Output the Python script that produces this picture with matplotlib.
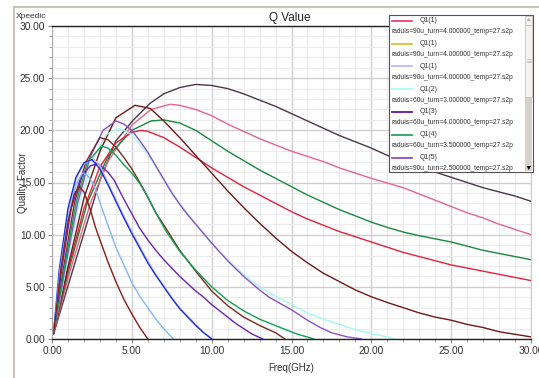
import matplotlib
matplotlib.use("Agg")
import matplotlib.pyplot as plt
from matplotlib.ticker import MultipleLocator, FormatStrFormatter
from matplotlib.patches import Rectangle, Polygon
from matplotlib.lines import Line2D

plt.rcParams['font.family'] = ['Liberation Sans', 'DejaVu Sans']

# Q curves: frequency (GHz) and quality factor
maroon_s_f = [0.1, 0.55, 1.0, 1.4, 1.7, 2.0, 2.4, 2.7, 3.0, 3.5, 4.0, 4.5, 5.0, 5.5, 6.0]
maroon_s_q = [0.5, 6.6, 11.2, 13.9, 14.6, 14.1, 12.4, 10.8, 9.5, 7.4, 5.5, 3.8, 2.4, 1.1, 0.0]

ltblue_f = [0.1, 0.5, 1.0, 1.5, 1.9, 2.2, 2.5, 2.7, 3.0, 3.5, 4.0, 4.5, 5.0, 5.5, 6.0, 6.5, 7.0, 7.6]
ltblue_q = [0.5, 6.6, 11.5, 14.8, 15.9, 15.7, 15.1, 14.4, 13.1, 10.9, 8.8, 7.1, 5.4, 4.1, 3.0, 1.9, 1.0, 0.0]

blue_f = [0.1, 0.45, 1.0, 1.5, 2.0, 2.5, 3.0, 3.5, 4.0, 4.5, 5.0, 5.5, 6.0, 6.5, 7.0, 7.5, 8.0, 8.5, 9.0, 9.5, 10.0]
blue_q = [0.6, 6.6, 12.5, 15.5, 16.9, 17.2, 16.3, 14.8, 13.2, 11.6, 10.1, 8.7, 7.3, 6.1, 5.0, 3.9, 2.9, 2.1, 1.3, 0.6, 0.0]

lav_f = [0.1, 0.5, 1.0, 1.5, 2.0, 2.6, 3.0, 3.5, 4.0, 4.5, 5.0, 5.5, 6.0, 6.5, 7.0, 7.5, 8.0, 8.5, 9.0, 9.5, 10.1]
lav_q = [0.6, 6.6, 12.2, 15.3, 16.8, 17.3, 16.6, 15.0, 13.4, 11.8, 10.3, 8.9, 7.5, 6.2, 5.1, 4.0, 3.0, 2.2, 1.4, 0.6, 0.0]

purple_f = [0.1, 0.6, 1.2, 1.8, 2.4, 2.9, 3.5, 3.9, 4.5, 5.0, 5.5, 6.0, 6.5, 7.0, 7.5, 8.0, 8.5, 9.0, 9.5,
            10.0, 10.5, 11.0, 11.5, 12.0, 12.5, 13.2]
purple_q = [0.5, 6.6, 12.5, 15.5, 16.6, 16.8, 16.0, 15.2, 13.4, 12.0, 10.6, 9.5, 8.5, 7.6, 6.8, 6.0, 5.3, 4.6, 4.0,
            3.3, 2.7, 2.1, 1.5, 1.0, 0.5, 0.0]

green_s_f = [0.1, 0.75, 1.5, 2.2, 3.1, 3.5, 4.0, 4.5, 5.0, 5.5, 6.0, 6.5, 7.1, 8.0, 9.0, 10.0, 11.0, 12.0, 13.0,
             14.3, 15.3, 16.4]
green_s_q = [0.5, 6.6, 13.0, 16.9, 18.5, 18.3, 17.6, 16.7, 15.9, 14.9, 13.6, 12.1, 10.45, 8.4, 6.6, 5.0, 3.7, 2.7,
             1.9, 1.1, 0.5, 0.0]

brown_f = [0.1, 0.7, 1.4, 2.1, 3.0, 3.5, 4.0, 4.5, 5.0, 5.5, 6.0, 6.5, 7.2, 8.0, 9.0, 10.0, 11.0, 12.0, 13.0,
           14.0, 14.6]
brown_q = [0.5, 6.6, 13.0, 16.9, 19.3, 19.1, 18.4, 17.4, 16.3, 15.0, 13.6, 12.1, 10.45, 8.5, 6.5, 4.6, 3.2, 2.1,
           1.3, 0.6, 0.0]

violet_f = [0.1, 0.8, 1.6, 2.4, 3.2, 4.0, 4.5, 5.0, 5.5, 6.0, 6.5, 7.0, 7.5, 8.0, 8.5, 9.0, 9.5, 10.0, 11.0,
            12.0, 13.0, 13.6, 14.3, 15.0, 16.0, 16.8, 17.5, 18.5, 19.4]
violet_q = [0.5, 6.6, 13.0, 17.5, 20.0, 20.9, 20.6, 20.0, 19.0, 17.9, 16.6, 15.3, 14.0, 12.9, 11.9, 11.0, 10.1,
            9.2, 7.5, 6.0, 4.7, 4.0, 3.4, 2.8, 1.8, 1.1, 0.6, 0.2, 0.0]

cyan_f = [0.1, 0.85, 1.7, 2.6, 3.4, 4.2, 5.0, 6.0, 7.0, 8.0, 9.0, 10.0, 11.0, 12.0, 13.0, 14.0, 15.0, 16.0, 17.0,
          18.0, 19.0, 20.0, 21.0, 21.5]
cyan_q = [0.5, 6.6, 13.0, 17.4, 19.6, 20.2, 19.6, 17.7, 15.3, 13.0, 11.0, 9.1, 7.6, 6.2, 5.0, 4.1, 3.3, 2.5, 1.9,
          1.4, 0.9, 0.5, 0.2, 0.0]

maroon_b_f = [0.1, 0.95, 2.0, 3.0, 4.0, 5.2, 6.15, 7.0, 8.0, 9.0, 10.0, 11.0, 12.0, 13.0, 14.0, 15.0, 16.0, 17.0,
              18.0, 19.0, 20.0, 21.0, 22.0, 23.0, 24.0, 25.0, 26.0, 27.0, 28.0, 29.0, 30.0]
maroon_b_q = [0.5, 6.6, 13.5, 18.0, 21.2, 22.4, 22.1, 20.9, 19.3, 17.6, 15.9, 14.2, 12.6, 11.1, 9.7, 8.4, 7.3, 6.3,
              5.5, 4.7, 4.05, 3.5, 3.0, 2.5, 2.1, 1.8, 1.4, 1.1, 0.7, 0.45, 0.2]

red_f = [0.1, 1.0, 2.0, 3.0, 4.0, 5.0, 5.6, 6.0, 7.0, 8.0, 9.0, 10.0, 11.0, 12.0, 13.0, 14.0, 15.0, 16.0, 17.0,
         18.0, 19.0, 20.0, 21.0, 22.0, 23.0, 24.0, 25.0, 26.0, 27.0, 28.0, 29.0, 30.0]
red_q = [0.5, 6.6, 12.5, 16.5, 18.8, 19.8, 20.0, 19.9, 19.3, 18.4, 17.4, 16.4, 15.5, 14.6, 13.8, 13.0, 12.2, 11.5,
         10.9, 10.3, 9.8, 9.3, 8.8, 8.3, 7.9, 7.5, 7.1, 6.8, 6.5, 6.2, 5.9, 5.6]

green_b_f = [0.1, 1.05, 2.2, 3.5, 5.0, 6.2, 7.0, 8.0, 9.0, 10.0, 11.0, 12.0, 13.0, 14.0, 15.0, 16.0, 17.0, 18.0,
             19.0, 20.0, 21.0, 22.0, 23.0, 24.0, 25.0, 26.0, 27.0, 28.0, 29.0, 30.0]
green_b_q = [0.5, 6.6, 13.0, 17.5, 20.0, 20.9, 21.0, 20.7, 20.0, 19.0, 18.0, 17.1, 16.2, 15.4, 14.6, 13.8, 13.1,
             12.4, 11.8, 11.2, 10.7, 10.25, 9.9, 9.6, 9.3, 8.9, 8.5, 8.2, 7.9, 7.6]

pink_f = [0.1, 1.15, 2.4, 3.5, 5.0, 6.2, 7.4, 8.0, 9.0, 10.0, 11.0, 12.0, 13.0, 14.0, 15.0, 16.0, 17.0, 18.0,
          19.0, 20.0, 21.0, 22.0, 23.0, 24.0, 25.0, 26.0, 27.0, 28.0, 29.0, 30.0]
pink_q = [0.5, 6.6, 13.0, 17.0, 20.5, 22.0, 22.5, 22.4, 22.0, 21.4, 20.6, 19.9, 19.2, 18.6, 18.0, 17.5, 17.0,
          16.4, 15.9, 15.4, 14.95, 14.5, 13.9, 13.3, 12.7, 12.1, 11.6, 11.0, 10.5, 10.0]

gray_f = [0.1, 1.3, 3.0, 4.0, 5.1, 6.15, 7.0, 8.0, 9.0, 10.0, 11.0, 12.0, 13.0, 14.0, 15.0, 16.0, 17.0, 18.0,
          19.0, 20.0, 21.0, 22.0, 23.0, 24.0, 25.0, 26.0, 27.0, 28.0, 29.0, 30.0]
gray_q = [0.5, 6.6, 15.2, 19.0, 21.0, 22.6, 23.5, 24.1, 24.4, 24.3, 24.0, 23.5, 22.9, 22.3, 21.6, 20.9, 20.2,
          19.5, 18.9, 18.3, 17.6, 17.0, 16.5, 16.0, 15.5, 15.0, 14.5, 14.1, 13.7, 13.2]

curves = [
    (gray_f, gray_q, '#4a3848'),
    (pink_f, pink_q, '#e8648c'),
    (green_b_f, green_b_q, '#178a3c'),
    (red_f, red_q, '#e8203c'),
    (maroon_b_f, maroon_b_q, '#701818'),
    (cyan_f, cyan_q, '#a4f8ee'),
    (violet_f, violet_q, '#8a50c8'),
    (brown_f, brown_q, '#7a2a20'),
    (green_s_f, green_s_q, '#12a052'),
    (purple_f, purple_q, '#6a22b8'),
    (lav_f, lav_q, '#c8b8f8'),
    (blue_f, blue_q, '#1830d0'),
    (ltblue_f, ltblue_q, '#80b8f8'),
    (maroon_s_f, maroon_s_q, '#8b1a1a'),
]

legend_names = ['Q1(1)', 'Q1(1)', 'Q1(1)', 'Q1(2)', 'Q1(3)', 'Q1(4)', 'Q1(5)']
legend_files = ['raduis=90u_turn=4.000000_temp=27.s2p',
                'raduis=90u_turn=4.000000_temp=27.s2p',
                'raduis=90u_turn=4.000000_temp=27.s2p',
                'raduis=60u_turn=3.000000_temp=27.s2p',
                'raduis=60u_turn=4.000000_temp=27.s2p',
                'raduis=60u_turn=3.500000_temp=27.s2p',
                'raduis=90u_turn=2.500000_temp=27.s2p']
legend_colors = ['#f0306a', '#d8b820', '#c0b0f8', '#a0fff0', '#5000a0', '#10a050', '#8040c0']

W, H = 539, 378
fig = plt.figure(figsize=(W / 100, H / 100), dpi=100)
ax = fig.add_axes([52 / W, 1 - 339 / H, (531 - 52) / W, (339 - 26) / H])

for f, q, c in curves:
    ax.plot(f, q, color=c, lw=1.0, solid_capstyle='round')

ax.set_xlim(0, 30)
ax.set_ylim(0, 30)
ax.xaxis.set_major_locator(MultipleLocator(5))
ax.xaxis.set_minor_locator(MultipleLocator(1))
ax.yaxis.set_major_locator(MultipleLocator(5))
ax.yaxis.set_minor_locator(MultipleLocator(1))
ax.xaxis.set_major_formatter(FormatStrFormatter('%.2f'))
ax.yaxis.set_major_formatter(FormatStrFormatter('%.2f'))
ax.grid(which='major', color='#cfcfcf', lw=1.0)
ax.grid(which='minor', color='#ececec', lw=0.8)
ax.set_axisbelow(True)
ax.tick_params(which='major', length=3, width=0.8, color='#888888', labelsize=7.3, labelcolor='#333333', pad=2)
ax.tick_params(which='minor', length=2, width=0.6, color='#999999')
for s in ['top', 'bottom']:
    ax.spines[s].set_color('#222222')
    ax.spines[s].set_linewidth(1.0)
ax.spines['left'].set_color('#aaaaaa')
ax.spines['right'].set_color('#cccccc')

ax.set_xlabel('Freq(GHz)', fontsize=7, color='#333333', labelpad=5)
ax.set_ylabel('Quality Factor', fontsize=7, color='#333333')
ax.yaxis.set_label_coords((28 - 52) / (531 - 52), 0.5)
fig.text(290 / W, 1 - 18 / H, 'Q Value', ha='center', va='center', fontsize=8.5, color='#222222')
fig.text(16 / W, 1 - 17 / H, 'Xpeedic', ha='left', va='center', fontsize=6, color='#333333')

# outer frame
fig.add_artist(Line2D([14 / W, 14 / W], [0, 1 - 7 / H], transform=fig.transFigure, color='#c8c4bc', lw=1.5))
fig.add_artist(Line2D([14 / W, 1], [1 - 7 / H, 1 - 7 / H], transform=fig.transFigure, color='#c8c4bc', lw=1.5))

# legend box with scrollbar
lx0, lx1, ly0, ly1 = 389, 533, 15, 172
fig.add_artist(Rectangle((lx0 / W, 1 - ly1 / H), (lx1 - lx0) / W, (ly1 - ly0) / H, transform=fig.transFigure,
                         facecolor='white', edgecolor='#555555', lw=0.8, zorder=5))
sx0 = 525
fig.add_artist(Rectangle((sx0 / W, 1 - (ly1 - 1) / H), (lx1 - 1 - sx0) / W, (ly1 - ly0 - 2) / H,
                         transform=fig.transFigure, facecolor='#d6d2ca', edgecolor='none', zorder=6))
fig.add_artist(Rectangle((sx0 / W, 1 - 97 / H), (lx1 - 1 - sx0) / W, (97 - 25) / H,
                         transform=fig.transFigure, facecolor='#f4f3f0', edgecolor='#c0bcb4', lw=0.5, zorder=7))
fig.add_artist(Rectangle((sx0 / W, 1 - 25 / H), (lx1 - 1 - sx0) / W, 9 / H,
                         transform=fig.transFigure, facecolor='#f4f3f0', edgecolor='#c0bcb4', lw=0.5, zorder=7))
fig.add_artist(Polygon([(526.5 / W, 1 - 166 / H), (531 / W, 1 - 166 / H), (528.75 / W, 1 - 170 / H)],
                       closed=True, transform=fig.transFigure, facecolor='black', zorder=8))
fig.add_artist(Polygon([(526.5 / W, 1 - 21 / H), (531 / W, 1 - 21 / H), (528.75 / W, 1 - 18 / H)],
                       closed=True, transform=fig.transFigure, facecolor='#b8b4ac', zorder=8))
for k in range(3):
    yy = 1 - (59 + 1.5 * k) / H
    fig.add_artist(Line2D([526.5 / W, 531 / W], [yy, yy], transform=fig.transFigure, color='#a8a49c', lw=0.4,
                          zorder=8))

for i, (nm, fn, c) in enumerate(zip(legend_names, legend_files, legend_colors)):
    y1 = 20.7 + i * 22.8
    fig.add_artist(Line2D([392 / W, 412 / W], [1 - y1 / H, 1 - y1 / H], transform=fig.transFigure, color=c,
                          lw=1.2, zorder=8))
    fig.text(420 / W, 1 - y1 / H, nm, ha='left', va='center', fontsize=5, color='#333333', zorder=8)
    fig.text(392 / W, 1 - (y1 + 11) / H, fn, ha='left', va='center', fontsize=4.8, color='#333333', zorder=8)

fig.savefig('out.png', dpi=100)
